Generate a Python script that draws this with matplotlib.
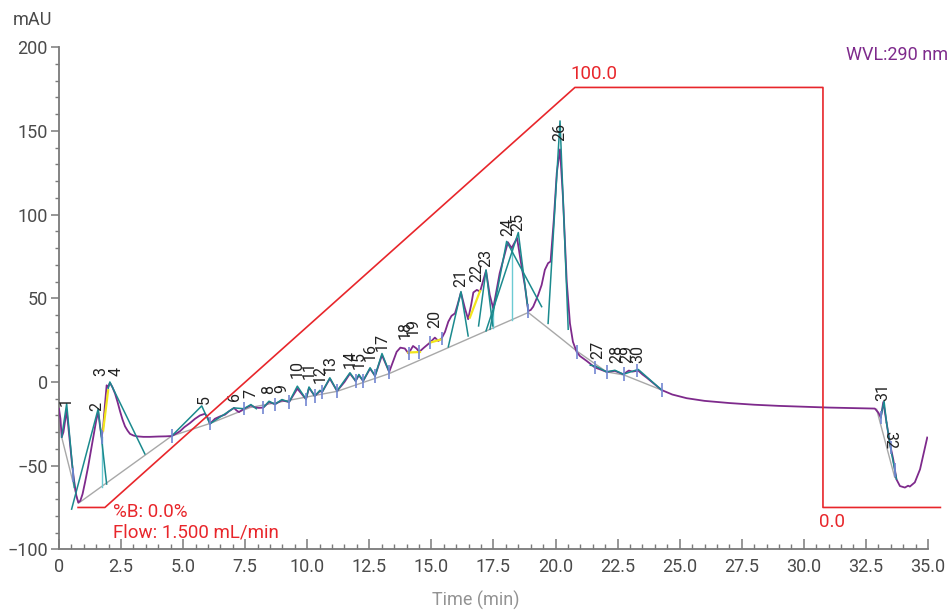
import numpy as np
import matplotlib
matplotlib.use("Agg")
import matplotlib.pyplot as plt
from matplotlib.ticker import MultipleLocator

plt.rcParams['font.family'] = ['Roboto', 'DejaVu Sans']

# chromatogram trace (min, mAU)
trace_t = [0.00, 0.06, 0.11, 0.18, 0.24, 0.31, 0.38, 0.44, 0.52, 0.60, 0.70, 0.78, 0.86,
           0.95, 1.05, 1.17, 1.30, 1.41, 1.50, 1.58, 1.65, 1.72, 1.78, 1.85, 1.92, 1.98,
           2.05, 2.15, 2.26, 2.36, 2.46, 2.56, 2.66, 2.76, 2.86, 3.00, 3.14, 3.40, 3.66,
           4.00, 4.30, 4.54, 4.70, 4.87, 5.05, 5.28, 5.48, 5.68, 5.88, 5.98, 6.08, 6.18,
           6.28, 6.50, 6.69, 6.85, 7.05, 7.15, 7.25, 7.45, 7.73, 7.90, 8.05, 8.23, 8.46,
           8.70, 8.98, 9.27, 9.60, 9.95, 10.07, 10.30, 10.51, 10.60, 10.91, 11.20, 11.50,
           11.72, 11.95, 12.08, 12.25, 12.53, 12.73, 13.01, 13.30, 13.45, 13.60, 13.75,
           13.93, 14.08, 14.26, 14.40, 14.51, 14.70, 14.94, 15.14, 15.28, 15.41, 15.55,
           15.68, 15.81, 15.95, 16.05, 16.19, 16.35, 16.48, 16.60, 16.69, 16.83, 16.96,
           17.20, 17.35, 17.49, 17.75, 18.08, 18.23, 18.45, 18.60, 18.77, 18.90, 19.00,
           19.10, 19.30, 19.44, 19.57, 19.70, 19.80, 19.93, 20.05, 20.18, 20.30, 20.45,
           20.58, 20.70, 20.85, 20.98, 21.25, 21.59, 21.80, 22.06, 22.39, 22.73, 22.95,
           23.10, 23.33, 23.50, 23.67, 24.00, 24.27, 24.70, 25.28, 26.00, 27.00, 28.00,
           29.00, 30.00, 31.00, 32.00, 32.86, 33.00, 33.10, 33.20, 33.33, 33.47, 33.60,
           33.73, 33.87, 34.07, 34.20, 34.27, 34.47, 34.68, 34.97]
trace_v = [-16, -22, -33, -30, -24, -17, -27, -36, -48, -58, -68, -72, -71,
           -67, -60, -51, -40, -31, -23, -18, -26, -33, -27, -14, -2, -3,
           -0.5, -3, -7, -12, -17.5, -22.5, -26.5, -29, -31, -32, -32.5, -32.8, -32.8,
           -32.6, -32.5, -32.3, -31, -29.5, -27, -24.5, -22, -20, -19, -21, -25, -23.5,
           -22, -20.5, -19.5, -17.5, -15.5, -17, -18, -16, -14, -15.2, -15.5, -15.3, -12,
           -13.3, -11, -12, -4, -10.3, -3.5, -8.4, -5.5, -6, 2, -5.4, 0,
           5, 0.6, 4, 0.6, 8, 3.6, 16, 6, 12, 18, 20.5,
           20, 17, 21.5, 20, 18, 20.5, 23.5, 26.5, 24.5, 26, 30,
           36, 39.5, 41, 46, 53.5, 44, 37.5, 46, 53.5, 55, 54,
           66.5, 52, 44, 65, 83.5, 80, 86, 72, 57, 42.4, 43,
           45, 52, 58, 67, 71, 72, 97, 125, 139, 110, 60,
           35, 24, 18, 15.5, 12.6, 8.6, 7.5, 6, 6.6, 4.6, 6.8,
           6.2, 6.8, 4.5, 2.6, -1.5, -4.8, -7.5, -9.7, -11.3, -12.6, -13.6,
           -14.3, -14.8, -15.3, -15.6, -15.9, -18.3, -21.3, -12, -24.3, -37.2, -46.2,
           -58.2, -62.2, -63.1, -62, -62.5, -60, -52.2, -33.2]

# integration baseline
base_t = [0.11, 0.78, 4.54, 6.08, 7.69, 11.2, 13.3, 18.9, 20.18, 20.85, 22.06, 22.75, 24.27]
base_v = [-33, -72.5, -32.3, -24.8, -15.3, -5.6, 5.0, 41.5, 26.5, 18.5, 6, 4.2, -4.8]
base2_t = [32.93, 33.66]
base2_v = [-16.3, -57]

# peaks: number, retention time, label height
peak_no = list(range(1, 33))
peak_rt = [0.28, 1.53, 1.69, 2.30, 5.84, 7.05, 7.73, 8.46, 8.98, 9.60, 10.07, 10.51,
           10.91, 11.72, 12.08, 12.53, 13.01, 13.93, 14.26, 15.14, 16.19, 16.83, 17.20,
           18.08, 18.49, 20.18, 21.71, 22.47, 22.88, 23.32, 33.19, 33.47]
peak_top = [-14.3, -17.5, 3.4, 3.4, -13.3, -11.4, -9.3, -7.3, -6.3, 2.6, 1.6, -0.4,
            5.6, 8.6, 7.6, 12.6, 18.5, 25.5, 27.5, 32.5, 56.6, 59.6, 68.5,
            87.3, 90.3, 143.9, 13.6, 11.6, 11.6, 11.6, -11.4, -29.3]

# fitted peak triangles (left foot, apex, right foot)
tri_lt = [0.11, 0.51, 1.98, 4.54, 6.08, 7.45, 8.23, 8.70, 9.27, 9.95, 10.30, 10.60, 11.20,
          11.95, 12.25, 12.73, 15.68, 16.90, 17.36, 17.20, 19.70, 21.40, 22.06, 22.73,
          33.10, 33.33]
tri_lv = [-33, -76, -4, -32.3, -25, -16, -15.3, -13.3, -12, -10.3, -8.4, -6, -5.4,
          0.6, 0.6, 3.6, 21, 33.5, 31.5, 30.5, 35, 10, 6, 4.6, -21.3, -24.3]
tri_at = [0.31, 1.58, 2.05, 5.75, 7.05, 7.73, 8.46, 8.98, 9.60, 10.07, 10.51, 10.91, 11.72,
          12.08, 12.53, 13.01, 16.19, 17.20, 18.03, 18.50, 20.18, 21.60, 22.39, 23.33,
          33.23, 33.50]
tri_av = [-13, -16, 0, -14.3, -15.5, -13.5, -11.5, -10.5, -2.5, -3, -5, 2.5, 5.5,
          4.5, 8.5, 17, 54, 67, 84, 89.3, 156, 9.5, 7, 7.5, -11.4, -40]
tri_rt = [0.62, 1.92, 3.46, 6.08, 7.45, 7.95, 8.70, 9.27, 9.95, 10.30, 10.60, 11.20, 11.95,
          12.25, 12.73, 13.30, 16.48, 17.47, 19.44, 18.90, 20.51, 22.06, 22.73, 24.27,
          33.33, 33.73]
tri_rv = [-63, -61, -43, -25, -16, -16, -13.3, -12, -10.3, -8.4, -6, -5.4, 0.6,
          0.6, 3.6, 6, 27.5, 33.5, 45, 42.4, 31.5, 6, 4.6, -4.8, -24.3, -58]

# peak delimiters
delim_t = [0.58, 1.72, 4.54, 6.08, 7.45, 8.23, 8.70, 9.27, 9.95, 10.30, 10.60, 11.20,
           11.95, 12.25, 12.73, 13.30, 14.08, 14.51, 14.94, 15.41, 18.90, 20.85, 21.59,
           22.06, 22.75, 23.29, 24.27, 33.10, 33.50, 33.67]

# drop lines (time, bottom)
drop_t = [1.72, 17.47, 18.23]
drop_bottom = [-62.5, 32.5, 37]

# skimmed shoulders
skim_t = [[1.78, 1.98], [14.07, 14.54], [14.94, 15.41], [16.55, 16.96]]
skim_v = [[-29, -5], [17.6, 17.9], [23.5, 25.5], [38.5, 54.4]]

# gradient program (%B)
grad_t = [0.77, 1.85, 20.78, 30.77, 30.77, 35.5]
grad_b = [0, 0, 100, 100, 0, 0]

PURPLE = '#7e2a8c'
TEAL = '#1b8a8e'
RED = '#e8262b'
GREY = '#7a7a7a'
TXT = '#4a4a4a'

fig = plt.figure(figsize=(9.51, 6.10), dpi=100)
ax = fig.add_axes([0.062, 0.0995, 0.9138, 0.823])

ax.plot(trace_t, trace_v, color=PURPLE, lw=1.3, zorder=3)
ax.plot(base_t, base_v, color='#a8a8a8', lw=1.0, zorder=2)
ax.plot(base2_t, base2_v, color='#a8a8a8', lw=1.0, zorder=2)

for lt, lv, at, av, rt, rv in zip(tri_lt, tri_lv, tri_at, tri_av, tri_rt, tri_rv):
    ax.plot([lt, at, rt], [lv, av, rv], color=TEAL, lw=1.1, zorder=4)

for t, b in zip(drop_t, drop_bottom):
    top = np.interp(t, trace_t, trace_v)
    ax.plot([t, t], [b, top], color='#6ccbd3', lw=1.0, zorder=2)

for st, sv in zip(skim_t, skim_v):
    ax.plot(st, sv, color='#f2e51b', lw=1.6, zorder=5)

dv = np.interp(delim_t, trace_t, trace_v)
ax.vlines(delim_t, dv - 4, dv + 4, color='#7386d2', lw=1.2, zorder=6)

for n, t, v in zip(peak_no, peak_rt, peak_top):
    if n == 32:
        ax.text(t, v, str(n), rotation=-90, ha='center', va='top', fontsize=11.5,
                color='#222222', zorder=7)
    else:
        ax.text(t, v, str(n), rotation=90, ha='center', va='bottom', fontsize=11.5,
                color='#222222', zorder=7)

ax.set_xlim(0, 35)
ax.set_ylim(-100, 200)
ax.set_xticks(np.arange(0, 35.01, 2.5))
ax.set_xticklabels(['0'] + [f'{x:.1f}' for x in np.arange(2.5, 35.01, 2.5)])
ax.xaxis.set_minor_locator(MultipleLocator(0.5))
ax.yaxis.set_major_locator(MultipleLocator(50))
ax.yaxis.set_minor_locator(MultipleLocator(10))
ax.tick_params(axis='x', which='major', direction='in', length=7, width=1.1,
               color=GREY, labelsize=13, labelcolor=TXT, pad=6)
ax.tick_params(axis='x', which='minor', direction='in', length=3.5, width=1.0, color=GREY)
ax.tick_params(axis='y', which='major', direction='out', length=6, width=1.1,
               color=GREY, labelsize=13, labelcolor=TXT, pad=2)
ax.tick_params(axis='y', which='minor', direction='out', length=3, width=1.0, color=GREY)
for side in ['top', 'right']:
    ax.spines[side].set_visible(False)
for side in ['left', 'bottom']:
    ax.spines[side].set_color(GREY)
    ax.spines[side].set_linewidth(1.3)

# gradient overlay on its own %B scale
gax = ax.twinx()
gax.set_ylim((-100 + 75) / 2.51, (200 + 75) / 2.51)
gax.axis('off')
gax.plot(grad_t, grad_b, color=RED, lw=1.2, clip_on=False)
gax.annotate('%B: 0.0%', (grad_t[1], grad_b[1]), xytext=(6, 3), textcoords='offset points',
             ha='left', va='top', color=RED, fontsize=13.5)
gax.annotate('Flow: 1.500 mL/min', (grad_t[1], grad_b[1]), xytext=(6, -11.5),
             textcoords='offset points', ha='left', va='top', color=RED, fontsize=13.5)
gax.annotate('100.0', (grad_t[2], grad_b[2]), xytext=(-3, 3), textcoords='offset points',
             ha='left', va='bottom', color=RED, fontsize=13.5)
gax.annotate('0.0', (grad_t[4], grad_b[4]), xytext=(-3, -4), textcoords='offset points',
             ha='left', va='top', color=RED, fontsize=13.5)

fig.text(0.013, 0.967, 'mAU', ha='left', va='center', fontsize=13, color=TXT)
fig.text(0.997, 0.91, 'WVL:290 nm', ha='right', va='center', fontsize=13, color=PURPLE)
fig.text(0.5, 0.015, 'Time (min)', ha='center', va='center', fontsize=13, color='#939393')

fig.savefig('out.png', dpi=100)
